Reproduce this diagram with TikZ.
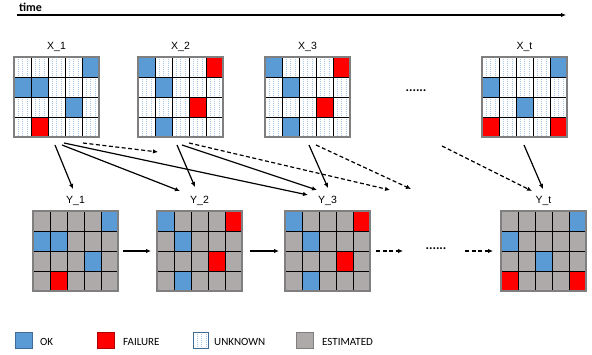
\documentclass[tikz,border=0pt]{standalone}
\usepackage{fontspec}
\setmainfont{Carlito}
\newfontfamily\lblfont{Liberation Sans}
\usetikzlibrary{arrows.meta,calc}
\definecolor{okblue}{HTML}{5B9BD5}
\definecolor{failred}{HTML}{FF0000}
\definecolor{estgray}{HTML}{AEAAAA}
\definecolor{dotblue}{HTML}{A9C8E8}
\definecolor{rimgray}{HTML}{7F7F7F}
\tikzset{
  cellB/.style={fill=okblue},
  cellR/.style={fill=failred},
  cellG/.style={fill=estgray},
  cellU/.style={fill=white, path picture={
      \foreach \k in {4,8.5,13}{
        \draw[dotblue,line width=0.55pt,dash pattern=on 0.55pt off 1.4pt]
          ($(path picture bounding box.north west)+(\k,0)$) --
          ($(path picture bounding box.south west)+(\k,0)$);}}},
  gridnode/.style={minimum width=85pt,minimum height=80pt,inner sep=0pt,outer sep=0pt},
  lbl/.style={font=\lblfont\fontsize{10.5}{11}\selectfont,inner sep=0pt},
  legtext/.style={font=\fontsize{11}{12}\selectfont,anchor=west,inner sep=0pt},
  dotsnode/.style={font=\fontsize{13}{13}\selectfont\bfseries,inner sep=0pt},
  arr/.style={-{Latex[length=5pt,width=4.5pt]},line width=1.2pt},
  darr/.style={arr,dash pattern=on 4pt off 2.5pt},
}
\newcommand\drawgrid[2]{%
  \foreach \row [count=\r from 0] in {#2} {
    \foreach \t [count=\c from 0] in \row {
      \path[draw=black,line width=0.7pt,cell\t]
        ($(#1.north west)+(\c*17,\r*20)$) rectangle ++(17,20);
    }
  }
  \draw[rimgray,line width=1.1pt] (#1.north west) rectangle (#1.south east);
}
\begin{document}
\begin{tikzpicture}[x=1pt,y=-1pt]
\useasboundingbox (0,0) rectangle (592,354);
% time axis
\node[font=\fontsize{12}{12}\selectfont\bfseries,anchor=base west,inner sep=0pt] (timel) at (19,11) {time};
\coordinate (t0) at (17,15);
\coordinate (t1) at (566,15);
\draw[-{Latex[length=5pt,width=4.5pt]},line width=1.3pt] (t0) -- (t1);

% X grids
\node[gridnode] (X1) at (56.5,97) {};
\node[gridnode] (X2) at (180.5,97) {};
\node[gridnode] (X3) at (307.5,97) {};
\node[gridnode] (Xt) at (524.5,97) {};
\drawgrid{X1}{{U,U,U,U,B},{B,B,U,U,U},{U,U,U,B,U},{U,R,U,U,U}}
\drawgrid{X2}{{B,U,U,U,R},{U,B,U,U,U},{U,U,U,R,U},{U,B,U,U,U}}
\drawgrid{X3}{{B,U,U,U,R},{U,B,U,U,U},{U,U,U,R,U},{U,B,U,U,U}}
\drawgrid{Xt}{{U,U,U,U,B},{B,U,U,U,U},{U,U,B,U,U},{R,U,U,U,R}}
\node[lbl] (X1l) at (56.5,47) {X\_1};
\node[lbl] (X2l) at (180.5,47) {X\_2};
\node[lbl] (X3l) at (307.5,47) {X\_3};
\node[lbl] (Xtl) at (524.5,47) {X\_t};
\node[dotsnode] (xdots) at (416,91) {......};

% Y grids
\node[gridnode] (Y1) at (75.5,251) {};
\node[gridnode] (Y2) at (199.5,251) {};
\node[gridnode] (Y3) at (327.5,251) {};
\node[gridnode] (Yt) at (543.5,251) {};
\drawgrid{Y1}{{G,G,G,G,B},{B,B,G,G,G},{G,G,G,B,G},{G,R,G,G,G}}
\drawgrid{Y2}{{B,G,G,G,R},{G,B,G,G,G},{G,G,G,R,G},{G,B,G,G,G}}
\drawgrid{Y3}{{B,G,G,G,R},{G,B,G,G,G},{G,G,G,R,G},{G,B,G,G,G}}
\drawgrid{Yt}{{G,G,G,G,B},{B,G,G,G,G},{G,G,B,G,G},{R,G,G,G,R}}
\node[lbl] (Y1l) at (75.5,201) {Y\_1};
\node[lbl] (Y2l) at (199.5,201) {Y\_2};
\node[lbl] (Y3l) at (327.5,201) {Y\_3};
\node[lbl] (Ytl) at (543.5,201) {Y\_t};
\node[dotsnode] (ydots) at (436,249) {......};

% X -> Y arrows
\coordinate (s11) at (55,145);  \coordinate (e11) at (73,189);
\coordinate (s12) at (62,145);  \coordinate (e12) at (180,191);
\coordinate (s13) at (64,143);  \coordinate (e13) at (308,195);
\coordinate (s1d) at (83,143);  \coordinate (e1d) at (158,152);
\coordinate (s22) at (177,145); \coordinate (e22) at (195,187);
\coordinate (s23) at (182,145); \coordinate (e23) at (317,190);
\coordinate (s2d) at (189,143); \coordinate (e2d) at (390,190);
\coordinate (s33) at (309,145); \coordinate (e33) at (328,188);
\coordinate (s3d) at (316,145); \coordinate (e3d) at (411,189);
\coordinate (std) at (442,146); \coordinate (etd) at (532,191);
\coordinate (stt) at (524,145); \coordinate (ett) at (543,189);
\draw[arr] (s11) -- (e11);
\draw[arr] (s12) -- (e12);
\draw[arr] (s13) -- (e13);
\draw[darr] (s1d) -- (e1d);
\draw[arr] (s22) -- (e22);
\draw[arr] (s23) -- (e23);
\draw[darr] (s2d) -- (e2d);
\draw[arr] (s33) -- (e33);
\draw[darr] (s3d) -- (e3d);
\draw[darr] (std) -- (etd);
\draw[arr] (stt) -- (ett);

% Y -> Y arrows
\draw[arr,shorten <=5pt,shorten >=6pt] (Y1.east) -- (Y2.west);
\draw[arr,shorten <=8pt,shorten >=6pt] (Y2.east) -- (Y3.west);
\coordinate (yd0) at (403,251);
\coordinate (yd1) at (465,251);
\draw[darr,shorten <=6pt] (Y3.east) -- (yd0);
\draw[darr,shorten >=8pt] (yd1) -- (Yt.west);

% legend
\node[draw=okblue!70!black,fill=okblue,minimum width=17pt,minimum height=16pt,inner sep=0pt,line width=0.6pt] (lok) at (23.5,340) {};
\node[legtext] (lokt) at (40,342) {OK};
\node[draw=failred!70!black,fill=failred,minimum width=17pt,minimum height=16pt,inner sep=0pt,line width=0.6pt] (lfail) at (106,340) {};
\node[legtext] (lfailt) at (123,342) {FAILURE};
\node[draw=okblue!70!black,cellU,minimum width=15pt,minimum height=16pt,inner sep=0pt,line width=0.4pt] (lunk) at (200.5,340) {};
\node[legtext] (lunkt) at (214,342) {UNKNOWN};
\node[draw=rimgray,fill=estgray,minimum width=17pt,minimum height=16pt,inner sep=0pt,line width=0.6pt] (lest) at (304.5,340) {};
\node[legtext] (lestt) at (322,342) {ESTIMATED};
\end{tikzpicture}
\end{document}
